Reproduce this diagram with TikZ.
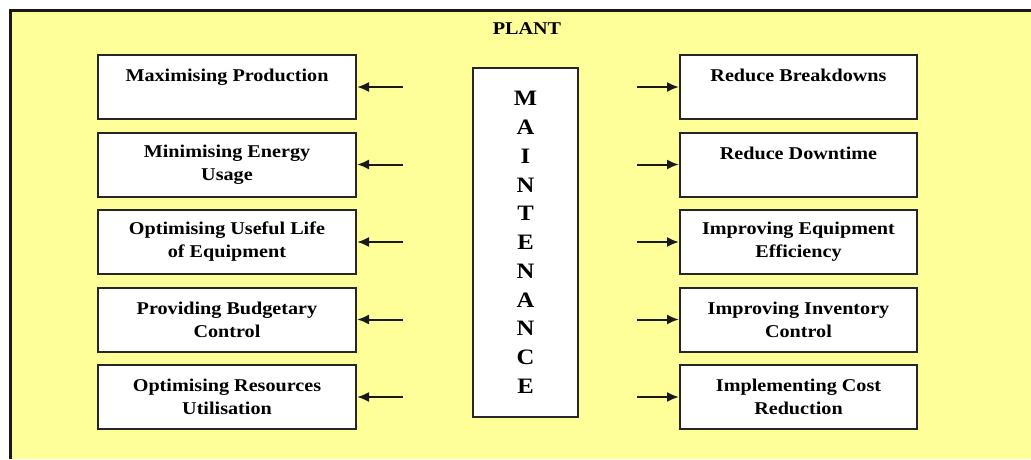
\documentclass[tikz,border=0pt]{standalone}
\usepackage{fontspec}
\setmainfont{Liberation Serif}[FakeStretch=1.12]
\usetikzlibrary{positioning,arrows.meta}
\definecolor{plantyellow}{RGB}{255,255,153}

\begin{document}
\begin{tikzpicture}[x=1pt, y=1pt,
    goal/.style={rectangle, draw=black!85, line width=2pt, fill=white, align=center, minimum height=64pt, inner sep=2pt, font=\fontsize{18}{23}\selectfont\bfseries},
    lgoal/.style={goal, minimum width=258pt},
    rgoal/.style={goal, minimum width=237pt},
    arr/.style={-{Latex[length=12pt,width=10pt]}, line width=2pt, black!90}]

\useasboundingbox (0,0) rectangle (1031,-459);
\fill[plantyellow] (10,-10) rectangle (1031,-459);
\draw[line width=3pt, black!90] (10,-459) -- (10,-10) -- (1031,-10);

\node (plant) at (527,-29) [font=\fontsize{18}{23}\selectfont\bfseries] {PLANT};

\node (m) [rectangle, draw=black!85, line width=2pt, fill=white, minimum width=105pt, minimum height=349pt, align=center, font=\fontsize{22}{28.75}\selectfont\bfseries] at (525.5,-242.5) {M\\A\\I\\N\\T\\E\\N\\A\\N\\C\\E};

\node (l1) [lgoal] at (227,-87) {Maximising Production\\ \phantom{X}};
\node (l2) [lgoal, below=11.5pt of l1] {Minimising Energy\\Usage};
\node (l3) [lgoal, below=11.5pt of l2] {Optimising Useful Life\\of Equipment};
\node (l4) [lgoal, below=11.5pt of l3] {Providing Budgetary\\Control};
\node (l5) [lgoal, below=11.5pt of l4] {Optimising Resources\\Utilisation};

\node (r1) [rgoal] at (798.5,-87) {Reduce Breakdowns\\ \phantom{X}};
\node (r2) [rgoal, below=11.5pt of r1] {Reduce Downtime\\ \phantom{X}};
\node (r3) [rgoal, below=11.5pt of r2] {Improving Equipment\\Efficiency};
\node (r4) [rgoal, below=11.5pt of r3] {Improving Inventory\\Control};
\node (r5) [rgoal, below=11.5pt of r4] {Implementing Cost\\Reduction};

\coordinate (a1) at ([xshift=46pt]l1.east);
\coordinate (a2) at ([xshift=46pt]l2.east);
\coordinate (a3) at ([xshift=46pt]l3.east);
\coordinate (a4) at ([xshift=46pt]l4.east);
\coordinate (a5) at ([xshift=46pt]l5.east);
\coordinate (b1) at ([xshift=-42pt]r1.west);
\coordinate (b2) at ([xshift=-42pt]r2.west);
\coordinate (b3) at ([xshift=-42pt]r3.west);
\coordinate (b4) at ([xshift=-42pt]r4.west);
\coordinate (b5) at ([xshift=-42pt]r5.west);

\draw[arr] (a1) -- (l1.east);
\draw[arr] (a2) -- (l2.east);
\draw[arr] (a3) -- (l3.east);
\draw[arr] (a4) -- (l4.east);
\draw[arr] (a5) -- (l5.east);
\draw[arr] (b1) -- (r1.west);
\draw[arr] (b2) -- (r2.west);
\draw[arr] (b3) -- (r3.west);
\draw[arr] (b4) -- (r4.west);
\draw[arr] (b5) -- (r5.west);

\end{tikzpicture}
\end{document}
